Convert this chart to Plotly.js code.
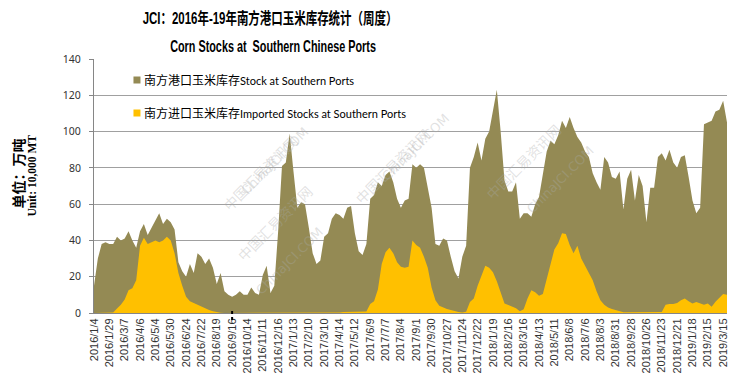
<!DOCTYPE html>
<html>
<head>
<meta charset="utf-8">
<script src="https://cdn.plot.ly/plotly-3.0.1.min.js"></script>
<style>
html,body{margin:0;padding:0;background:#fff;}
#chart{width:750px;height:388px;}
</style>
</head>
<body>
<div id="chart"></div>
<script>
// Tick labels (one every 4 weekly categories)
const tickLabels = [
  "2016/1/4","2016/1/29","2016/3/7","2016/4/6","2016/5/4","2016/5/30","2016/6/24","2016/7/22",
  "2016/8/19","2016/9/16","2016/10/14","2016/11/11","2016/12/16","2017/1/13","2017/2/10","2017/3/10",
  "2017/4/14","2017/5/12","2017/6/9","2017/7/7","2017/8/4","2017/9/1","2017/9/30","2017/10/27",
  "2017/11/24","2017/12/22","2018/1/19","2018/2/16","2018/3/16","2018/4/13","2018/5/11","2018/6/8",
  "2018/7/6","2018/8/3","2018/8/31","2018/9/28","2018/10/26","2018/11/23","2018/12/21","2019/1/18",
  "2019/2/15","2019/3/15"
];

// 南方港口玉米库存 Stock at Southern Ports (万吨), weekly
const stockSouth = [
  15,30,38,39,38,38,42,40,41,45,
  40,36,45,49,43,47,51,55,49,52,
  50,46,28,23,20,27,22,33,31,27,
  30,25,16,22,12,10,9,10,12,10,
  10,14,11,10,21,26,11,15,45,81,
  83,99,78,58,61,60,47,33,27,29,
  42,44,52,55,54,52,58,59,44,34,
  32,38,63,65,72,70,76,78,72,63,
  58,62,63,82,80,82,80,68,58,38,
  37,41,40,31,23,19,31,37,80,86,
  94,84,96,100,111,123,100,73,67,67,
  72,52,55,55,53,60,64,76,89,95,
  93,98,106,102,108,102,97,94,89,86,
  77,72,68,86,83,75,74,78,57,74,
  79,62,76,70,50,69,69,86,88,84,
  90,83,80,86,87,75,62,55,58,104,
  105,106,111,112,117,105
];

// 南方进口玉米库存 Imported Stocks at Southern Ports (万吨), weekly
const importedSouth = [
  0,0,0,0,0,0.3,2.5,4.5,7.5,12.5,
  13.6,18,37,41.5,38,39,40,39,40,42,
  40,33,22,15,9,6.5,5.5,4.3,3.2,2.4,
  1.6,1,0.5,0.2,0,0,0,0,0,0,
  0,0,0,0,0,0,0,0,0,0,
  0,0,0,0,0,0,0,0,0,0,
  0,0,0,0,0.3,0.5,0.5,0.5,0.5,0.5,
  0.5,0.8,5,6.5,13,27,33.5,36,33,28,
  25.5,25,25.5,40,37.5,36,31,25,14,7,
  4,3,2.2,1.6,1,0.5,0.3,0.7,6,8,
  15,21,26,25,22.5,17.5,11,5.3,4.4,3.6,
  2.6,1,2,8,12.5,11.5,9.5,10.5,19,27,
  35,38.5,44,43.5,37.5,33,37,30,26,22,
  18,12,7,4.5,3,2.2,1.5,0.9,0.4,0.4,
  0.4,0.4,0.4,0.4,0.4,0.4,0.4,0.4,0.5,4.5,
  5,5,5.5,7,8,6.5,5.3,6,5.3,4.5,
  5.3,3.5,6.2,8.5,10.5,10
];

const seriesNamesCn = ["南方港口玉米库存", "南方进口玉米库存"];
const seriesNamesEn = ["Stock at Southern Ports", "Imported Stocks at Southern Ports"];
const seriesColors = ["#948A54", "#FFC000"];

const W = 750, H = 388;
const L = 93.5, R = 727, T = 59, B = 313;
const px = x => (x - L) / (R - L);
const py = y => (B - y) / (B - T);

const xs = stockSouth.map((_, i) => i);
const tickVals = tickLabels.map((_, k) => k * 4);

const traces = [
  {x: xs, y: stockSouth, type: 'scatter', mode: 'lines', fill: 'tozeroy',
   line: {width: 0, color: seriesColors[0]}, fillcolor: seriesColors[0],
   name: seriesNamesCn[0] + seriesNamesEn[0], showlegend: false, hoverinfo: 'skip'},
  {x: xs, y: importedSouth, type: 'scatter', mode: 'lines', fill: 'tozeroy',
   line: {width: 0, color: seriesColors[1]}, fillcolor: seriesColors[1],
   name: seriesNamesCn[1] + seriesNamesEn[1], showlegend: false, hoverinfo: 'skip'}
];

const wmColor = 'rgba(170,170,170,0.35)';
const wmFont = {family: 'Noto Sans CJK SC, sans-serif', size: 14, color: wmColor};
const wmFontEn = {family: 'DejaVu Sans, sans-serif', size: 13, color: wmColor};
const wm = [];
[[215,128,235,160],[392,121,415,147],[567,117,600,140],[230,268,250,300]].forEach(p => {
  wm.push({xref:'paper', yref:'paper', x: px(p[0]), y: py(p[1]), text:'中国汇易资讯网', showarrow:false,
           textangle:-45, font: wmFont});
  wm.push({xref:'paper', yref:'paper', x: px(p[2]), y: py(p[3]), text:'ChinaJCI.COM', showarrow:false,
           textangle:-45, font: wmFontEn});
});

const titleFont = {family: 'Liberation Sans, Noto Sans CJK SC, sans-serif', size: 16, color: '#000'};
const legFont = {family: 'Noto Sans CJK SC, sans-serif', size: 12, color: '#000'};
const legEn = s => '<span style="font-family:Lato, sans-serif;font-size:11px">' + s + '</span>';

const layout = {
  width: W, height: H,
  margin: {l: L, r: W - R, t: T, b: H - B, pad: 0},
  paper_bgcolor: '#fff', plot_bgcolor: '#fff',
  showlegend: false,
  title: {text: '<b>JCI：2016年-19年南方港口玉米库存统计（周度）</b>', font: titleFont,
          x: 270 / W, xref: 'container', xanchor: 'center', y: 1 - 18 / H, yref: 'container', yanchor: 'middle'},
  xaxis: {
    range: [0, xs.length - 1], tickmode: 'array', tickvals: tickVals, ticktext: tickLabels,
    tickangle: -90, ticks: '', showgrid: false, zeroline: false,
    showline: true, linecolor: '#868686', linewidth: 1,
    tickfont: {family: 'Liberation Sans, Arial, sans-serif', size: 11, color: '#333'},
    fixedrange: true
  },
  yaxis: {
    range: [0, 140], dtick: 20, tick0: 0, ticks: 'outside', ticklen: 4, tickcolor: '#868686',
    showgrid: true, gridcolor: '#A0A0A0', gridwidth: 1, zeroline: false,
    showline: true, linecolor: '#868686', linewidth: 1,
    tickfont: {family: 'Noto Sans, sans-serif', size: 10.5, color: '#333'},
    ticklabelstandoff: 6,
    fixedrange: true
  },
  annotations: [
    {xref:'paper', yref:'paper', x: px(273), y: py(46), xanchor:'center', yanchor:'middle',
     text:'<b>Corn Stocks at  Southern Chinese Ports</b>', showarrow:false, font: titleFont},
    {xref:'paper', yref:'paper', x: px(17), y: py(174), xanchor:'center', yanchor:'middle',
     text:'<b>单位：万吨</b>', textangle:-90, showarrow:false,
     font:{family:'Noto Sans CJK SC, sans-serif', size:14, color:'#000'}},
    {xref:'paper', yref:'paper', x: px(31), y: py(176), xanchor:'center', yanchor:'middle',
     text:'<b>Unit: 10,000 MT</b>', textangle:-90, showarrow:false,
     font:{family:'Liberation Serif, serif', size:11.5, color:'#000'}},
    {xref:'paper', yref:'paper', x: px(142), y: py(80), xanchor:'left', yanchor:'middle',
     text: seriesNamesCn[0] + legEn(seriesNamesEn[0]), showarrow:false, font: legFont},
    {xref:'paper', yref:'paper', x: px(142), y: py(113), xanchor:'left', yanchor:'middle',
     text: seriesNamesCn[1] + legEn(seriesNamesEn[1]), showarrow:false, font: legFont}
  ].concat(wm),
  shapes: [
    {type:'rect', xref:'paper', yref:'paper', x0: px(133), x1: px(140), y0: py(83.5), y1: py(76.5),
     fillcolor: seriesColors[0], line:{width:0}},
    {type:'rect', xref:'paper', yref:'paper', x0: px(133), x1: px(140), y0: py(116.5), y1: py(109.5),
     fillcolor: seriesColors[1], line:{width:0}},
    {type:'line', xref:'x', yref:'paper', x0: 36, x1: 36, y0: py(320), y1: py(311),
     line:{color:'#000', width:2, dash:'dot'}}
  ]
};

// condense a text element horizontally around its centre to a target width (narrow title font)
function condense(el, targetWidth) {
  if (!el) return;
  const bb = el.getBBox();
  if (!bb.width) return;
  const s = targetWidth / bb.width;
  const cx = bb.x + bb.width / 2;
  el.setAttribute('transform', 'translate(' + cx + ',0) scale(' + s + ',1) translate(' + (-cx) + ',0)');
}

Plotly.newPlot('chart', traces, layout, {displayModeBar: false, staticPlot: true}).then(gd => {
  condense(gd.querySelector('.gtitle'), 255);
  const ann = gd.querySelectorAll('.annotation-text');
  condense(ann[0], 206);
});
</script>
</body>
</html>
